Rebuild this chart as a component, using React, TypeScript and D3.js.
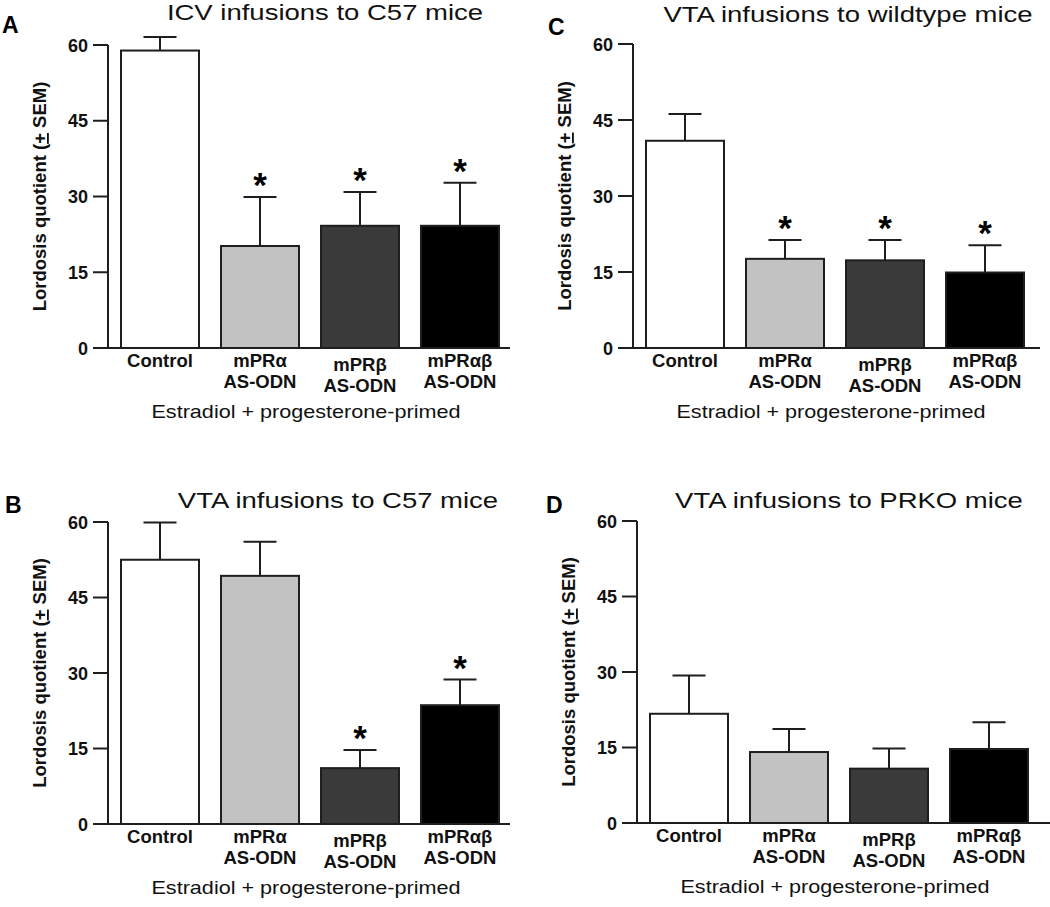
import React from 'react';
import * as d3 from 'd3';

// groups, shared by every panel
const CATEGORIES = ['Control', 'mPRα', 'mPRβ', 'mPRαβ'];
const SUBLABELS = ['', 'AS-ODN', 'AS-ODN', 'AS-ODN'];
const Y_TICKS = [0, 15, 30, 45, 60];

// panel titles and letters (A, B, C, D order)
const LETTERS = ['A', 'B', 'C', 'D'];
const TITLES = [
  'ICV infusions to C57 mice',
  'VTA infusions to C57 mice',
  'VTA infusions to wildtype mice',
  'VTA infusions to PRKO mice',
];

// lordosis quotient, mean and SEM
const A_MEAN = [58.9, 20.2, 24.2, 24.2];
const A_SEM = [2.7, 9.7, 6.7, 8.5];
const A_SIG = [false, true, true, true];

const B_MEAN = [52.5, 49.3, 11.1, 23.6];
const B_SEM = [7.4, 6.8, 3.6, 5.1];
const B_SIG = [false, false, true, true];

const C_MEAN = [40.9, 17.6, 17.3, 14.9];
const C_SEM = [5.3, 3.7, 4.0, 5.4];
const C_SIG = [false, true, true, true];

const D_MEAN = [21.7, 14.1, 10.8, 14.7];
const D_SEM = [7.6, 4.6, 4.0, 5.3];
const D_SIG = [false, false, false, false];

const FONT = '"Liberation Sans", Arial, Helvetica, sans-serif';
const FILLS = ['#ffffff', '#c2c2c2', '#3a3a3a', '#000000'];
const INK = '#1e1e1e';

// axis origin (x of y-axis, y of zero line), title/letter placement
const layout = [
  { ox: 108, oy: 348, top: 45, titleX: 325, titleY: 20, letterX: 2, letterY: 33, right: 510 },
  { ox: 108, oy: 824, top: 522, titleX: 338, titleY: 508, letterX: 5, letterY: 513, right: 510 },
  { ox: 633, oy: 348, top: 44, titleX: 848, titleY: 22, letterX: 548, letterY: 35, right: 1040 },
  { ox: 637, oy: 823, top: 521, titleX: 849, titleY: 508, letterX: 546, letterY: 513, right: 1050 },
];

const panels = [
  { mean: A_MEAN, sem: A_SEM, sig: A_SIG },
  { mean: B_MEAN, sem: B_SEM, sig: B_SIG },
  { mean: C_MEAN, sem: C_SEM, sig: C_SIG },
  { mean: D_MEAN, sem: D_SEM, sig: D_SIG },
];

function Panel({ idx }: { idx: number }) {
  const L = layout[idx];
  const { mean, sem, sig } = panels[idx];

  const y = d3.scaleLinear().domain([0, 60]).range([L.oy, L.top]);
  const x = d3
    .scaleBand()
    .domain(CATEGORIES)
    .range([L.ox + 8, L.ox + 396])
    .paddingInner(0.22)
    .paddingOuter(0.05);
  const bw = x.bandwidth();
  const midY = (L.oy + L.top) / 2;
  const centerX = ((x(CATEGORIES[0]) as number) + (x(CATEGORIES[3]) as number) + bw) / 2;

  return (
    <g>
      <text x={L.letterX} y={L.letterY} fontSize={23} fontWeight="bold" fill="#000">
        {LETTERS[idx]}
      </text>
      <text
        transform={`translate(${L.titleX},${L.titleY}) scale(1.25,1)`}
        textAnchor="middle"
        fontSize={22}
        fill="#111"
      >
        {TITLES[idx]}
      </text>

      {/* y axis */}
      <line x1={L.ox} x2={L.ox} y1={y(60)} y2={L.oy} stroke={INK} strokeWidth={2} />
      {Y_TICKS.map(t => (
        <g key={t}>
          <line x1={L.ox - 15} x2={L.ox} y1={y(t)} y2={y(t)} stroke={INK} strokeWidth={2} />
          <text x={L.ox - 20} y={y(t) + 6.5} textAnchor="end" fontSize={18} fontWeight="bold" fill="#111">
            {t}
          </text>
        </g>
      ))}
      <line x1={L.ox - 15} x2={L.right} y1={L.oy} y2={L.oy} stroke={INK} strokeWidth={2} />
      <text
        transform={`translate(${L.ox - 62},${midY}) rotate(-90)`}
        textAnchor="middle"
        fontSize={18.5}
        fontWeight="bold"
        fill="#111"
      >
        Lordosis quotient (<tspan style={{ textDecoration: 'underline' }}>+</tspan> SEM)
      </text>

      {/* bars, error bars, asterisks */}
      {CATEGORIES.map((c, i) => {
        const bx = x(c) as number;
        const cx = bx + bw / 2;
        const errTop = y(mean[i] + sem[i]);
        return (
          <g key={c}>
            <rect
              x={bx}
              y={y(mean[i])}
              width={bw}
              height={L.oy - y(mean[i])}
              fill={FILLS[i]}
              stroke={INK}
              strokeWidth={2}
            />
            <line x1={cx} x2={cx} y1={y(mean[i])} y2={errTop} stroke={INK} strokeWidth={2} />
            <line x1={cx - 16.5} x2={cx + 16.5} y1={errTop} y2={errTop} stroke={INK} strokeWidth={2} />
            {sig[i] && (
              <text x={cx} y={errTop + 0} textAnchor="middle" fontSize={35} fontWeight="bold" fill="#000">
                *
              </text>
            )}
            <text
              x={cx}
              y={L.oy + 19 + (i === 2 ? 4 : 0)}
              textAnchor="middle"
              fontSize={18.5}
              fontWeight="bold"
              fill="#111"
            >
              {c}
            </text>
            {SUBLABELS[i] && (
              <text
                x={cx}
                y={L.oy + 40 + (i === 2 ? 4 : 0)}
                textAnchor="middle"
                fontSize={18.5}
                fontWeight="bold"
                fill="#111"
              >
                {SUBLABELS[i]}
              </text>
            )}
          </g>
        );
      })}

      <text
        transform={`translate(${centerX - 4},${L.oy + 70}) scale(1.2,1)`}
        textAnchor="middle"
        fontSize={18}
        fill="#111"
      >
        Estradiol + progesterone-primed
      </text>
    </g>
  );
}

export default function App() {
  return (
    <svg
      width={1050}
      height={907}
      style={{ position: 'absolute', left: 0, top: 0, background: '#fff' }}
      fontFamily={FONT}
    >
      <rect width={1050} height={907} fill="#fff" />
      {[0, 1, 2, 3].map(i => (
        <Panel key={i} idx={i} />
      ))}
    </svg>
  );
}
